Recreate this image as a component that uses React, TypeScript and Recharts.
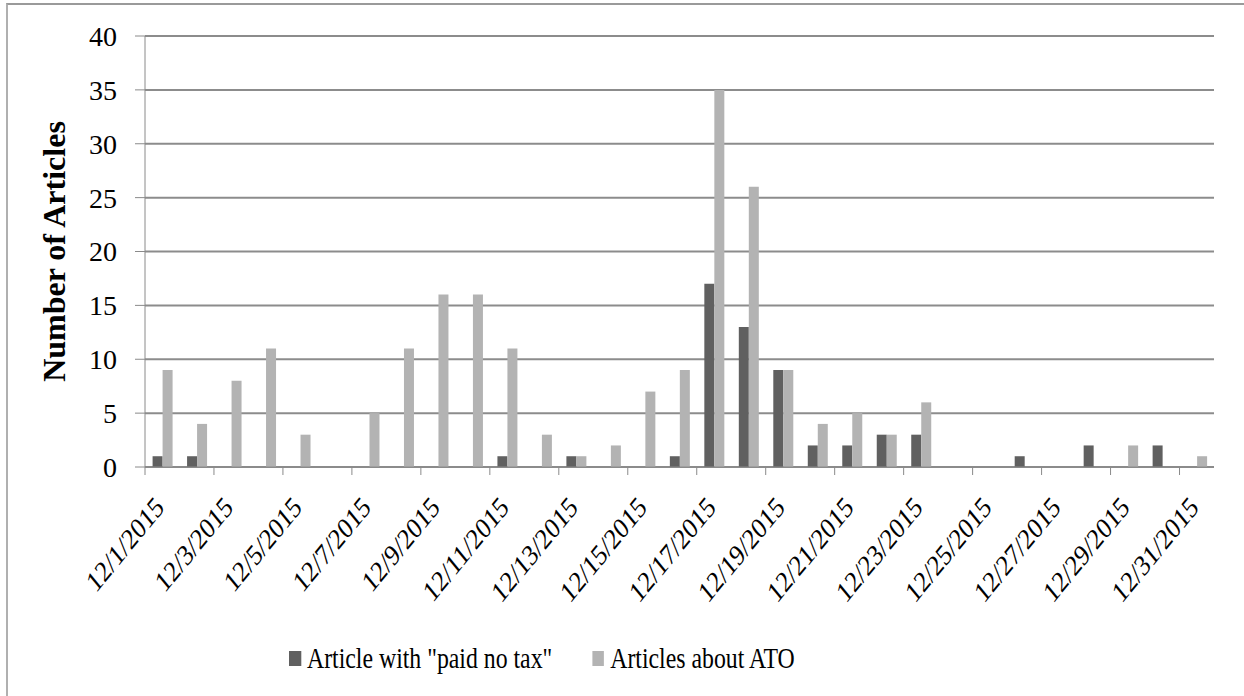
import { Bar, BarChart, CartesianGrid, Legend, XAxis, YAxis } from "recharts";

const days = [
  "12/1/2015", "12/2/2015", "12/3/2015", "12/4/2015", "12/5/2015", "12/6/2015",
  "12/7/2015", "12/8/2015", "12/9/2015", "12/10/2015", "12/11/2015", "12/12/2015",
  "12/13/2015", "12/14/2015", "12/15/2015", "12/16/2015", "12/17/2015", "12/18/2015",
  "12/19/2015", "12/20/2015", "12/21/2015", "12/22/2015", "12/23/2015", "12/24/2015",
  "12/25/2015", "12/26/2015", "12/27/2015", "12/28/2015", "12/29/2015", "12/30/2015",
  "12/31/2015",
];
const paidNoTax = [1, 1, 0, 0, 0, 0, 0, 0, 0, 0, 1, 0, 1, 0, 0, 1, 17, 13, 9, 2, 2, 3, 3, 0, 0, 1, 0, 2, 0, 2, 0];
const aboutAto = [9, 4, 8, 11, 3, 0, 5, 11, 16, 16, 11, 3, 1, 2, 7, 9, 35, 26, 9, 4, 5, 3, 6, 0, 0, 0, 0, 0, 2, 0, 1];
const yTicks = [0, 5, 10, 15, 20, 25, 30, 35, 40];

const seriesNames = ['Article with "paid no tax"', "Articles about ATO"];
const DARK = "#606060";
const LIGHT = "#b3b3b3";
const AXIS = "#8a8a8a";
const FONT = "Liberation Serif, serif";

const W = 1244;
const H = 696;
const LEFT = 145;
const RIGHT = 30;
const band = (W - LEFT - RIGHT) / days.length;
const SQUEEZE = 0.82; // text in the source is horizontally narrow

const data = days.map((d, i) => ({ day: d, paid: paidNoTax[i], ato: aboutAto[i] }));

function DayTick(props: any) {
  const { x, y, payload } = props;
  const edge = x - band / 2;
  return (
    <g>
      <line x1={edge} y1={y} x2={edge} y2={y + 8} stroke={AXIS} strokeWidth={1} />
      <g transform={`translate(${x + 3},${y + 42}) scale(${SQUEEZE},1)`}>
        <text
          transform="rotate(-45)"
          textAnchor="end"
          fill="#000"
          style={{ fontFamily: FONT, fontSize: 29.5 }}
        >
          {payload.value}
        </text>
      </g>
    </g>
  );
}

function YTitle(props: any) {
  const vb = props.viewBox;
  const cx = 54;
  const cy = vb.y + vb.height / 2;
  return (
    <text
      x={cx}
      y={cy}
      transform={`rotate(-90, ${cx}, ${cy})`}
      textAnchor="middle"
      dy="0.35em"
      fill="#000"
      style={{ fontFamily: FONT, fontSize: 32, fontWeight: "bold" }}
    >
      Number of Articles
    </text>
  );
}

function LegendBox() {
  const items = [
    { name: seriesNames[0], color: DARK },
    { name: seriesNames[1], color: LIGHT },
  ];
  return (
    <div
      style={{
        display: "flex",
        alignItems: "center",
        height: 40,
        gap: 40 / SQUEEZE,
        fontFamily: FONT,
        fontSize: 29,
        color: "#000",
        transform: `scaleX(${SQUEEZE})`,
        transformOrigin: "0 0",
      }}
    >
      {items.map((it) => (
        <span key={it.name} style={{ display: "flex", alignItems: "center", gap: 6 / SQUEEZE, whiteSpace: "nowrap" }}>
          <span style={{ width: 12 / SQUEEZE, height: 15, background: it.color, display: "inline-block" }} />
          <span>{it.name}</span>
        </span>
      ))}
    </div>
  );
}

export default function App() {
  return (
    <div
      style={{
        position: "absolute",
        left: 0,
        top: 0,
        width: W,
        height: H,
        background: "#fff",
        overflow: "hidden",
        fontFamily: FONT,
      }}
    >
      <div
        style={{
          position: "absolute",
          left: 6,
          top: 3,
          width: W + 20,
          height: H + 20,
          borderTop: "2px solid #9a9a9a",
          borderLeft: "2px solid #b0b0b0",
          boxSizing: "border-box",
        }}
      />
      <BarChart
        width={W}
        height={H}
        data={data}
        margin={{ top: 36, right: RIGHT, left: 0, bottom: 0 }}
        barCategoryGap="22%"
        barGap={0}
      >
        <CartesianGrid vertical={false} stroke="#8c8c8c" strokeWidth={2} />
        <XAxis
          dataKey="day"
          interval={1}
          height={189}
          tickSize={0}
          tickMargin={0}
          tickLine={false}
          axisLine={{ stroke: AXIS, strokeWidth: 1 }}
          tick={<DayTick />}
        />
        <YAxis
          width={LEFT}
          domain={[0, 40]}
          ticks={yTicks}
          interval={0}
          tickSize={10}
          tickMargin={18}
          axisLine={{ stroke: AXIS, strokeWidth: 1 }}
          tickLine={{ stroke: AXIS, strokeWidth: 1 }}
          tick={{ fontSize: 28, fontFamily: FONT, fill: "#000" }}
          label={<YTitle />}
        />
        <Legend
          verticalAlign="bottom"
          content={<LegendBox />}
          wrapperStyle={{ left: 289, top: 638, width: "auto" }}
        />
        <Bar dataKey="paid" name={seriesNames[0]} fill={DARK} isAnimationActive={false} />
        <Bar dataKey="ato" name={seriesNames[1]} fill={LIGHT} isAnimationActive={false} />
      </BarChart>
    </div>
  );
}
